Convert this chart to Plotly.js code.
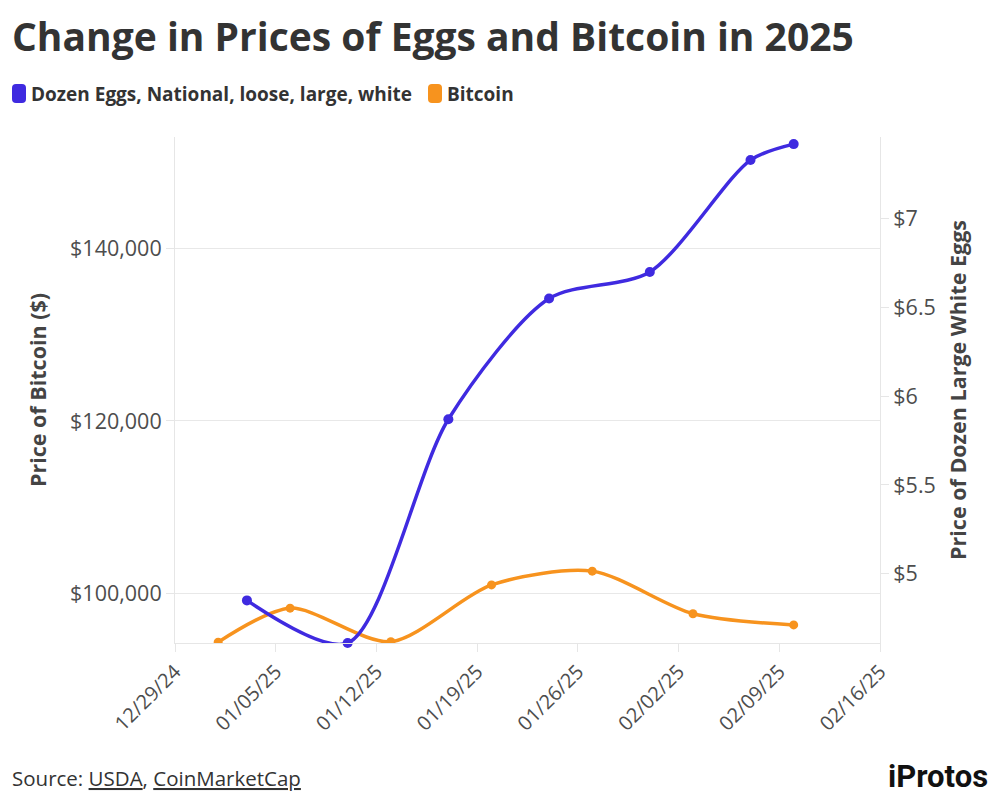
<!DOCTYPE html>
<html>
<head>
<meta charset="utf-8">
<script src="https://cdn.plot.ly/plotly-3.0.1.min.js"></script>
<style>html,body{margin:0;padding:0;background:#fff;}#chart{width:1000px;height:811px;}</style>
</head>
<body>
<div id="chart"></div>
<script>
// Data
const eggDates = ['2025-01-03','2025-01-10','2025-01-17','2025-01-24','2025-01-31','2025-02-07','2025-02-10'];
const eggPrices = [4.85, 4.61, 5.87, 6.55, 6.70, 7.33, 7.42];
const btcDates = ['2025-01-01','2025-01-06','2025-01-13','2025-01-20','2025-01-27','2025-02-03','2025-02-10'];
const btcPrices = [94300, 98250, 94350, 100950, 102550, 97600, 96300];
const xTickVals = ['2024-12-29','2025-01-05','2025-01-12','2025-01-19','2025-01-26','2025-02-02','2025-02-09','2025-02-16'];
const leftTickVals = [100000, 120000, 140000];
const leftTickText = ['$100,000', '$120,000', '$140,000'];
const rightTickVals = [5, 5.5, 6, 6.5, 7];
const rightTickText = ['$5','$5.5','$6','$6.5','$7'];
const seriesNames = ['Dozen Eggs, National, loose, large, white', 'Bitcoin'];
const seriesColors = ['#3f2ae0', '#f7931e'];

const tickFont = {family: 'Open Sans, sans-serif', size: 21.5, color: '#4d4d4d'};
const titleFont = {family: 'Open Sans, sans-serif', size: 21.5, color: '#444'};

const traces = [
  {x: btcDates, y: btcPrices, name: seriesNames[1], type: 'scatter', mode: 'lines+markers',
   line: {color: seriesColors[1], width: 3.5, shape: 'spline', smoothing: 0.8}, marker: {color: seriesColors[1], size: 9},
   yaxis: 'y', cliponaxis: true},
  {x: eggDates, y: eggPrices, name: seriesNames[0], type: 'scatter', mode: 'lines+markers',
   line: {color: seriesColors[0], width: 3.5, shape: 'spline', smoothing: 0.8}, marker: {color: seriesColors[0], size: 10},
   yaxis: 'y2', cliponaxis: false}
];

const M = {l: 175, r: 120, t: 137, b: 168};
const layout = {
  width: 1000, height: 811,
  paper_bgcolor: '#fff', plot_bgcolor: '#fff',
  margin: M,
  showlegend: false,
  title: {text: '<b>Change in Prices of Eggs and Bitcoin in 2025</b>', x: 0.012, xanchor: 'left', y: 1 - 37/811, yanchor: 'middle',
          font: {family: 'Open Sans, sans-serif', size: 39, color: '#333'}},
  xaxis: {
    type: 'date', range: ['2024-12-29', '2025-02-16'],
    tickvals: xTickVals, tickformat: '%m/%d/%y', tickangle: -45,
    tickfont: {family: 'Open Sans, sans-serif', size: 20, color: '#4d4d4d'},
    showgrid: false, zeroline: false,
    showline: true, linecolor: '#e6e6e6', linewidth: 1,
    ticks: 'outside', ticklen: 8, tickcolor: '#e6e6e6'
  },
  yaxis: {
    range: [94200, 153000], tickvals: leftTickVals, ticktext: leftTickText,
    tickfont: tickFont, showgrid: true, gridcolor: '#e8e8e8', zeroline: false,
    showline: true, linecolor: '#e6e6e6', ticks: 'outside', ticklen: 8, tickcolor: '#e6e6e6',
    title: {text: '<b>Price of Bitcoin ($)</b>', font: titleFont, standoff: 17}
  },
  yaxis2: {
    overlaying: 'y', side: 'right',
    range: [4.61, 7.46], tickvals: rightTickVals, ticktext: rightTickText,
    tickfont: tickFont, showgrid: false, zeroline: false,
    showline: true, linecolor: '#e6e6e6', ticks: 'outside', ticklen: 8, tickcolor: '#e6e6e6',
    title: {text: '<b>Price of Dozen Large White Eggs</b>', font: titleFont, standoff: 16}
  }
};

// Legend and footer placed in pixel space converted to paper coordinates
const plotW = 1000 - M.l - M.r, plotH = 811 - M.t - M.b;
function px(x) { return (x - M.l) / plotW; }
function py(y) { return (811 - M.b - y) / plotH; }
function roundRect(x0, y0, w, h, r) {
  const X = v => px(v), Y = v => py(v);
  return `M${X(x0+r)},${Y(y0)} L${X(x0+w-r)},${Y(y0)} Q${X(x0+w)},${Y(y0)} ${X(x0+w)},${Y(y0+r)} L${X(x0+w)},${Y(y0+h-r)} Q${X(x0+w)},${Y(y0+h)} ${X(x0+w-r)},${Y(y0+h)} L${X(x0+r)},${Y(y0+h)} Q${X(x0)},${Y(y0+h)} ${X(x0)},${Y(y0+h-r)} L${X(x0)},${Y(y0+r)} Q${X(x0)},${Y(y0)} ${X(x0+r)},${Y(y0)} Z`;
}
layout.shapes = [
  {type: 'path', xref: 'paper', yref: 'paper', path: roundRect(12, 84, 14, 19, 4), fillcolor: seriesColors[0], line: {width: 0}},
  {type: 'path', xref: 'paper', yref: 'paper', path: roundRect(428, 84, 14, 19, 4), fillcolor: seriesColors[1], line: {width: 0}}
];
const legFont = {family: 'Open Sans, sans-serif', size: 19, color: '#333'};
layout.annotations = [
  {xref: 'paper', yref: 'paper', x: px(29), y: py(94), xanchor: 'left', yanchor: 'middle', showarrow: false,
   text: '<b>' + seriesNames[0] + '</b>', font: legFont},
  {xref: 'paper', yref: 'paper', x: px(445), y: py(94), xanchor: 'left', yanchor: 'middle', showarrow: false,
   text: '<b>' + seriesNames[1] + '</b>', font: legFont},
  {xref: 'paper', yref: 'paper', x: px(10), y: py(778), xanchor: 'left', yanchor: 'middle', showarrow: false,
   text: 'Source: <u>USDA</u>, <u>CoinMarketCap</u>', font: {family: 'Open Sans, sans-serif', size: 20.5, color: '#333'}},
  {xref: 'paper', yref: 'paper', x: px(990), y: py(776), xanchor: 'right', yanchor: 'middle', showarrow: false,
   text: '<b>iProtos</b>', font: {family: 'Roboto, sans-serif', size: 31, color: '#111'}}
];

Plotly.newPlot('chart', traces, layout, {displayModeBar: false, staticPlot: true});
</script>
</body>
</html>
